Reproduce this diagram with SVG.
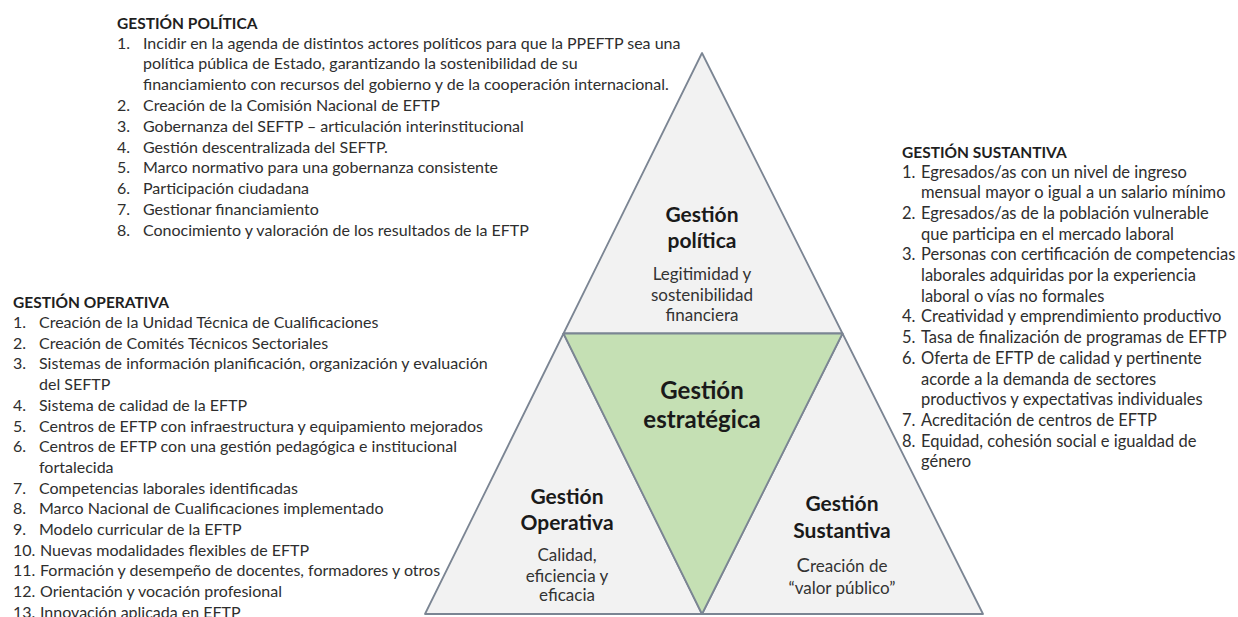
<svg xmlns="http://www.w3.org/2000/svg" width="1238" height="617" viewBox="0 0 1238 617">
<style>
.bg{fill:#ffffff}
.tri{fill:#f2f2f2;stroke:#7b8593;stroke-width:1.8;stroke-linejoin:round}
.tri-g{fill:#c5e0b4;stroke:#7b8593;stroke-width:1.8;stroke-linejoin:round}
.h{font-family:Lato,"Open Sans",sans-serif;font-weight:bold;font-size:15.5px;fill:#1f1f1f}
.li{font-family:Lato,"Open Sans",sans-serif;font-size:16px;fill:#2e2e2e}
.lr{font-size:16.5px}
.t{font-family:Lato,"Open Sans",sans-serif;font-weight:bold;font-size:21px;fill:#1a1a1a;text-anchor:middle}
.tc{font-family:Lato,"Open Sans",sans-serif;font-weight:bold;font-size:24px;fill:#1a1a1a;text-anchor:middle}
.s{font-family:Lato,"Open Sans",sans-serif;font-size:17px;fill:#333333;text-anchor:middle}
</style>
<rect class="bg" x="0" y="0" width="1238" height="617"/>

<g id="node-politica">
<polygon class="tri" points="702,53 563.5,333.5 842.5,333.5"/>
<text class="t" x="702" y="222">Gestión</text>
<text class="t" x="702" y="247.5">política</text>
<text class="s" x="702" y="279.5">Legitimidad y</text>
<text class="s" x="702" y="300.5">sostenibilidad</text>
<text class="s" x="702" y="321">financiera</text>
</g>

<g id="node-operativa">
<polygon class="tri" points="563.5,333.5 425,614 702,614"/>
<text class="t" x="567" y="503.5">Gestión</text>
<text class="t" x="567" y="529.5">Operativa</text>
<text class="s" x="567" y="561">Calidad,</text>
<text class="s" x="567" y="581.5">eficiencia y</text>
<text class="s" x="567" y="601">eficacia</text>
</g>

<g id="node-sustantiva">
<polygon class="tri" points="842.5,333.5 702,614 983,614"/>
<text class="t" x="842" y="511">Gestión</text>
<text class="t" x="842" y="538">Sustantiva</text>
<text class="s" x="842" y="572"><tspan font-size="20px">C</tspan>reación de</text>
<text class="s" x="842" y="594">“valor público”</text>
</g>

<g id="node-estrategica">
<polygon class="tri-g" points="563.5,333.5 842.5,333.5 702,614"/>
<text class="tc" x="702" y="398.5">Gestión</text>
<text class="tc" x="702" y="427.5">estratégica</text>
</g>

<g id="list-politica">
<text class="h" x="117" y="29">GESTIÓN POLÍTICA</text>
<text class="li" x="117" y="48.5">1.</text><text class="li" x="143" y="48.5">Incidir en la agenda de distintos actores políticos para que la PPEFTP sea una</text>
<text class="li" x="143" y="69.3">política pública de Estado, garantizando la sostenibilidad de su</text>
<text class="li" x="143" y="90.1">financiamiento con recursos del gobierno y de la cooperación internacional.</text>
<text class="li" x="117" y="110.9">2.</text><text class="li" x="143" y="110.9">Creación de la Comisión Nacional de EFTP</text>
<text class="li" x="117" y="131.7">3.</text><text class="li" x="143" y="131.7">Gobernanza del SEFTP – articulación interinstitucional</text>
<text class="li" x="117" y="152.5">4.</text><text class="li" x="143" y="152.5">Gestión descentralizada del SEFTP.</text>
<text class="li" x="117" y="173.3">5.</text><text class="li" x="143" y="173.3">Marco normativo para una gobernanza consistente</text>
<text class="li" x="117" y="194.1">6.</text><text class="li" x="143" y="194.1">Participación ciudadana</text>
<text class="li" x="117" y="214.9">7.</text><text class="li" x="143" y="214.9">Gestionar financiamiento</text>
<text class="li" x="117" y="235.7">8.</text><text class="li" x="143" y="235.7">Conocimiento y valoración de los resultados de la EFTP</text>
</g>

<g id="list-operativa">
<text class="h" x="13" y="307.5">GESTIÓN OPERATIVA</text>
<text class="li" x="13" y="328">1.</text><text class="li" x="39" y="328">Creación de la Unidad Técnica de Cualificaciones</text>
<text class="li" x="13" y="348.7">2.</text><text class="li" x="39" y="348.7">Creación de Comités Técnicos Sectoriales</text>
<text class="li" x="13" y="369.4">3.</text><text class="li" x="39" y="369.4">Sistemas de información planificación, organización y evaluación</text>
<text class="li" x="39" y="390.1">del SEFTP</text>
<text class="li" x="13" y="410.8">4.</text><text class="li" x="39" y="410.8">Sistema de calidad de la EFTP</text>
<text class="li" x="13" y="431.5">5.</text><text class="li" x="39" y="431.5">Centros de EFTP con infraestructura y equipamiento mejorados</text>
<text class="li" x="13" y="452.2">6.</text><text class="li" x="39" y="452.2">Centros de EFTP con una gestión pedagógica e institucional</text>
<text class="li" x="39" y="472.9">fortalecida</text>
<text class="li" x="13" y="493.6">7.</text><text class="li" x="39" y="493.6">Competencias laborales identificadas</text>
<text class="li" x="13" y="514.3">8.</text><text class="li" x="39" y="514.3">Marco Nacional de Cualificaciones implementado</text>
<text class="li" x="13" y="535">9.</text><text class="li" x="39" y="535">Modelo curricular de la EFTP</text>
<text class="li" x="13" y="555.7">10.</text><text class="li" x="40" y="555.7">Nuevas modalidades flexibles de EFTP</text>
<text class="li" x="13" y="576.4">11.</text><text class="li" x="40" y="576.4">Formación y desempeño de docentes, formadores y otros</text>
<text class="li" x="13" y="597.1">12.</text><text class="li" x="40" y="597.1">Orientación y vocación profesional</text>
<text class="li" x="13" y="617.5">13.</text><text class="li" x="40" y="617.5">Innovación aplicada en EFTP</text>
</g>

<g id="list-sustantiva">
<text class="h" x="902" y="157.5">GESTIÓN SUSTANTIVA</text>
<text class="li lr" x="902" y="177.5">1.</text><text class="li lr" x="921" y="177.5">Egresados/as con un nivel de ingreso</text>
<text class="li lr" x="921" y="198.2">mensual mayor o igual a un salario mínimo</text>
<text class="li lr" x="902" y="218.9">2.</text><text class="li lr" x="921" y="218.9">Egresados/as de la población vulnerable</text>
<text class="li lr" x="921" y="239.6">que participa en el mercado laboral</text>
<text class="li lr" x="902" y="260.3">3.</text><text class="li lr" x="921" y="260.3">Personas con certificación de competencias</text>
<text class="li lr" x="921" y="281">laborales adquiridas por la experiencia</text>
<text class="li lr" x="921" y="301.7">laboral o vías no formales</text>
<text class="li lr" x="902" y="322.4">4.</text><text class="li lr" x="921" y="322.4">Creatividad y emprendimiento productivo</text>
<text class="li lr" x="902" y="343.1">5.</text><text class="li lr" x="921" y="343.1">Tasa de finalización de programas de EFTP</text>
<text class="li lr" x="902" y="363.8">6.</text><text class="li lr" x="921" y="363.8">Oferta de EFTP de calidad y pertinente</text>
<text class="li lr" x="921" y="384.5">acorde a la demanda de sectores</text>
<text class="li lr" x="921" y="405.2">productivos y expectativas individuales</text>
<text class="li lr" x="902" y="425.9">7.</text><text class="li lr" x="921" y="425.9">Acreditación de centros de EFTP</text>
<text class="li lr" x="902" y="446.6">8.</text><text class="li lr" x="921" y="446.6">Equidad, cohesión social e igualdad de</text>
<text class="li lr" x="921" y="467.3">género</text>
</g>
</svg>
